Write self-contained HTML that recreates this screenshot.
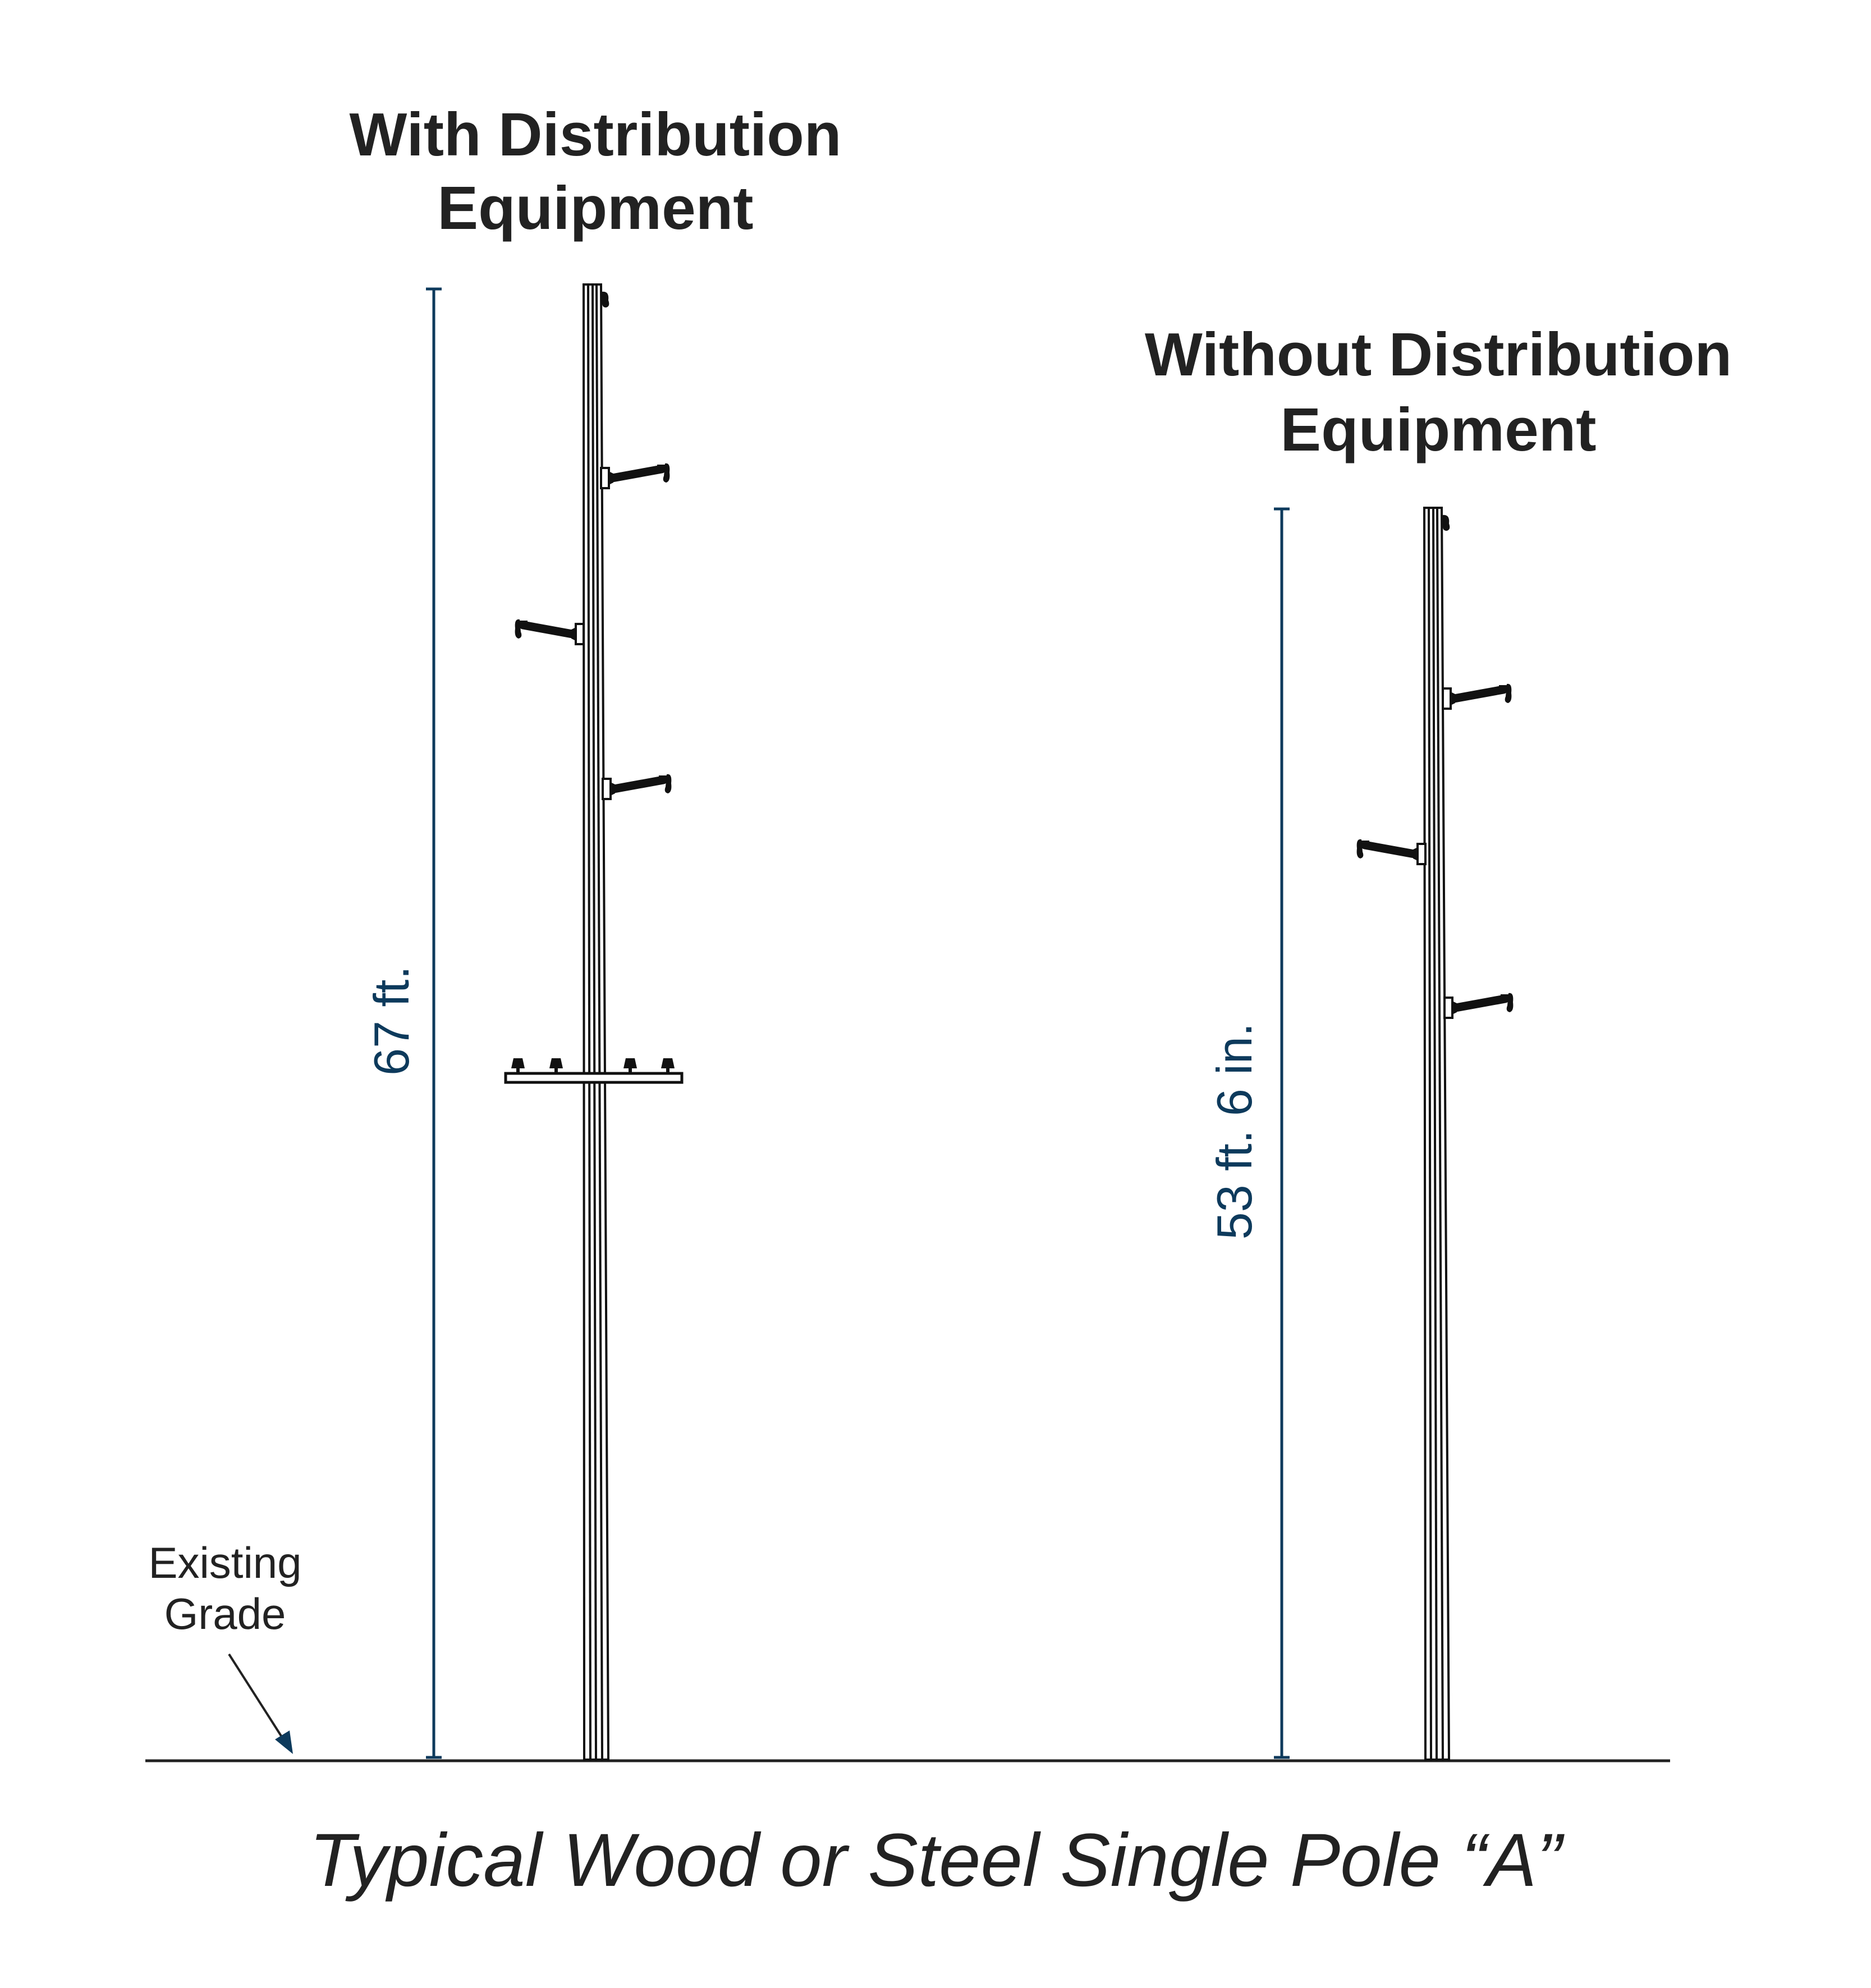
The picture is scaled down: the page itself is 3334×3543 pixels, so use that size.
<!DOCTYPE html>
<html><head><style>
html,body{margin:0;padding:0;background:#fff}
svg{display:block}
</style></head><body>
<svg width="3334" height="3543" viewBox="0 0 3334 3543" xmlns="http://www.w3.org/2000/svg">
<defs>
<g id="armR">
<rect x="0" y="-18" width="14" height="36" fill="#fff" stroke="#111" stroke-width="4"/>
<path d="M14 -12 L22 -8 L22 8 L14 12Z" fill="#111"/>
<line x1="20" y1="0" x2="108" y2="-16" stroke="#111" stroke-width="15" stroke-linecap="round"/>
<rect x="100" y="-24" width="14" height="12" fill="#111"/>
<path d="M114 -26 Q124 -28 122 -10 Q124 6 116 8 Q108 6 112 -4Z" fill="#111"/>
</g>
</defs>
<g font-family="Liberation Sans, sans-serif" font-weight="bold" fill="#222" text-anchor="middle" font-size="109">
<text x="1061" y="277">With Distribution</text>
<text x="1061" y="408">Equipment</text>
<text x="2563" y="669">Without Distribution</text>
<text x="2563" y="803">Equipment</text>
</g>
<g stroke="#0d3a5c" stroke-width="5">
<line x1="773" y1="515" x2="773" y2="3132"/>
<line x1="759" y1="515" x2="787" y2="515"/>
<line x1="759" y1="3132" x2="787" y2="3132"/>
<line x1="2284" y1="907" x2="2284" y2="3132"/>
<line x1="2270" y1="907" x2="2298" y2="907"/>
<line x1="2270" y1="3132" x2="2298" y2="3132"/>
</g>
<g font-family="Liberation Sans, sans-serif" fill="#0d3a5c" font-size="88" text-anchor="middle">
<text transform="translate(728,1819) rotate(-90)">67 ft.</text>
<text transform="translate(2230,2016) rotate(-90)">53 ft. 6 in.</text>
</g>
<line x1="259" y1="3138" x2="2976" y2="3138" stroke="#222" stroke-width="5"/>
<g font-family="Liberation Sans, sans-serif" fill="#222" font-size="78" text-anchor="middle">
<text x="401" y="2812">Existing</text>
<text x="401" y="2903">Grade</text>
</g>
<line x1="408" y1="2948" x2="505" y2="3100" stroke="#222" stroke-width="4"/>
<path d="M522 3126 L490 3100 L516 3084Z" fill="#0d3a5c"/>
<g stroke="#111" stroke-width="4" fill="none">
<path d="M1040 507 L1071 507 L1084 3136 L1041 3136Z" fill="#fff"/>
<line x1="1048" y1="507" x2="1052" y2="3136"/>
<line x1="1056" y1="507" x2="1062" y2="3136"/>
<line x1="1063" y1="507" x2="1073" y2="3136"/>
</g>
<path d="M1072 520 Q1086 518 1084 535 Q1088 546 1080 548 Q1072 548 1073 538Z" fill="#111"/>
<use href="#armR" transform="translate(1071,852)"/>
<use href="#armR" transform="translate(1040,1130) scale(-1,1)"/>
<use href="#armR" transform="translate(1074,1406)"/>
<rect x="901" y="1913" width="314" height="16" fill="#fff" stroke="#111" stroke-width="5"/>
<g fill="#111">
<g transform="translate(923,1892)"><path d="M-12 12 L-8 -6 L8 -6 L12 12Z"/><rect x="-3" y="12" width="6" height="9"/></g>
<g transform="translate(991,1892)"><path d="M-12 12 L-8 -6 L8 -6 L12 12Z"/><rect x="-3" y="12" width="6" height="9"/></g>
<g transform="translate(1123,1892)"><path d="M-12 12 L-8 -6 L8 -6 L12 12Z"/><rect x="-3" y="12" width="6" height="9"/></g>
<g transform="translate(1190,1892)"><path d="M-12 12 L-8 -6 L8 -6 L12 12Z"/><rect x="-3" y="12" width="6" height="9"/></g>
</g>
<g stroke="#111" stroke-width="4" fill="none">
<path d="M2538 905 L2569 905 L2582 3136 L2540 3136Z" fill="#fff"/>
<line x1="2546" y1="905" x2="2550" y2="3136"/>
<line x1="2554" y1="905" x2="2560" y2="3136"/>
<line x1="2561" y1="905" x2="2571" y2="3136"/>
</g>
<path d="M2570 918 Q2584 916 2582 933 Q2586 944 2578 946 Q2570 946 2571 936Z" fill="#111"/>
<use href="#armR" transform="translate(2571,1245)"/>
<use href="#armR" transform="translate(2540,1522) scale(-1,1)"/>
<use href="#armR" transform="translate(2574,1796)"/>
<text x="1667" y="3361" font-family="Liberation Sans, sans-serif" font-style="italic" font-size="134" fill="#222" text-anchor="middle">Typical Wood or Steel Single Pole “A”</text>
</svg>
</body></html>
